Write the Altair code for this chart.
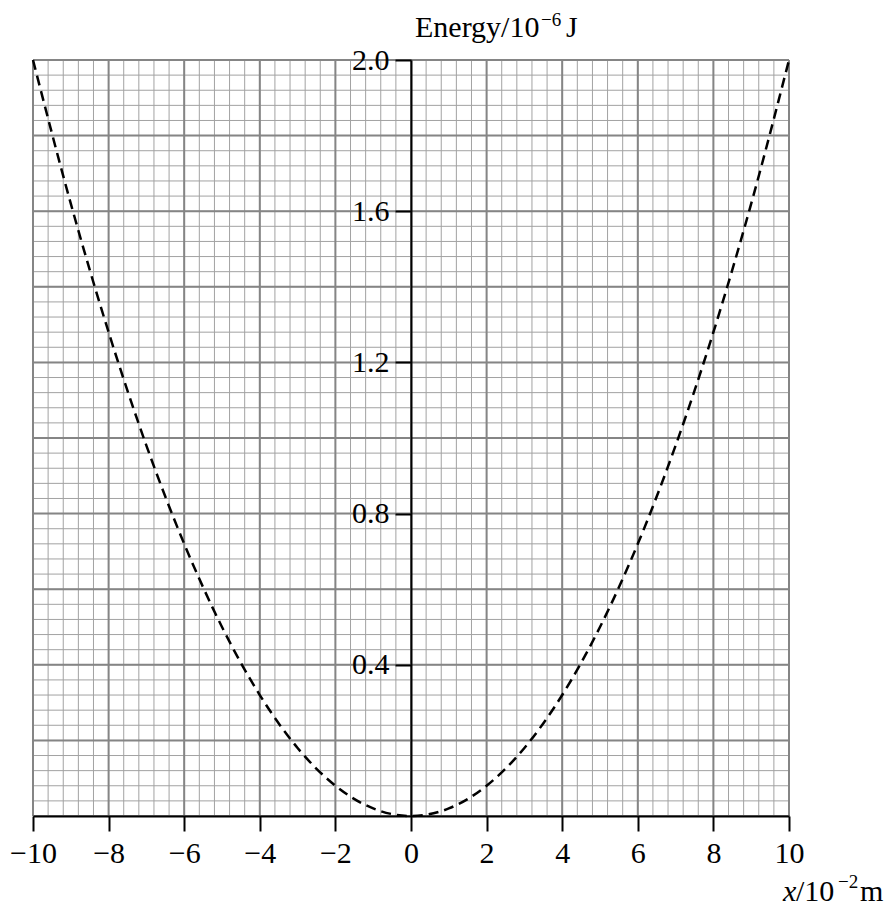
import altair as alt
import pandas as pd

# ---- data ----
x_pos = [-10, -9, -8, -7, -6, -5, -4, -3, -2, -1, 0, 1, 2, 3, 4, 5, 6, 7, 8, 9, 10]
energy = [2.0, 1.62, 1.28, 0.98, 0.72, 0.50, 0.32, 0.18, 0.08, 0.02, 0.0,
          0.02, 0.08, 0.18, 0.32, 0.50, 0.72, 0.98, 1.28, 1.62, 2.0]

x_ticks = [-10, -8, -6, -4, -2, 0, 2, 4, 6, 8, 10]
y_ticks = [0.4, 0.8, 1.2, 1.6, 2.0]

x_minor = [round(-10 + 0.4 * i, 2) for i in range(51)]
x_major = [round(-10 + 2 * i, 2) for i in range(11)]
y_minor = [round(0.04 * i, 2) for i in range(51)]
y_major = [round(0.2 * i, 2) for i in range(11)]

W = 756
H = 756
FONT = "Liberation Serif"
FS = 30

xs = alt.Scale(domain=[-10, 10], nice=False, zero=False)
ys = alt.Scale(domain=[0, 2], nice=False, zero=False)

x_axis = alt.Axis(
    values=x_ticks,
    title=None,
    grid=False,
    format="d",
    domainColor="black",
    domainWidth=2,
    tickColor="black",
    tickWidth=2,
    tickSize=15,
    labelFont=FONT,
    labelFontSize=FS,
    labelColor="black",
    labelPadding=7,
    labelFlush=False,
    labelOverlap=False,
    zindex=1,
)
y_axis = alt.Axis(
    values=y_ticks,
    title=None,
    grid=False,
    format=".1f",
    offset=-W / 2,
    domainColor="black",
    domainWidth=2,
    tickColor="black",
    tickWidth=2,
    tickSize=16,
    labelFont=FONT,
    labelFontSize=FS,
    labelColor="black",
    labelPadding=6,
    labelFlush=False,
    labelOverlap=False,
    zindex=1,
)

curve_df = pd.DataFrame({"x": x_pos, "E": energy})

minor_v = alt.Chart(pd.DataFrame({"v": x_minor})).mark_rule(
    color="#a2a2a2", strokeWidth=1
).encode(x=alt.X("v:Q", scale=xs, axis=x_axis, title=None))

minor_h = alt.Chart(pd.DataFrame({"v": y_minor})).mark_rule(
    color="#a2a2a2", strokeWidth=1
).encode(y=alt.Y("v:Q", scale=ys, axis=y_axis, title=None))

major_v = alt.Chart(pd.DataFrame({"v": x_major})).mark_rule(
    color="#858585", strokeWidth=2
).encode(x=alt.X("v:Q", scale=xs, axis=x_axis, title=None))

major_h = alt.Chart(pd.DataFrame({"v": y_major})).mark_rule(
    color="#858585", strokeWidth=2
).encode(y=alt.Y("v:Q", scale=ys, axis=y_axis, title=None))

curve = alt.Chart(curve_df).mark_line(
    color="black", strokeWidth=2.5, strokeDash=[10, 6], interpolate="monotone"
).encode(
    x=alt.X("x:Q", scale=xs, axis=x_axis, title=None),
    y=alt.Y("E:Q", scale=ys, axis=y_axis, title=None),
)


def txt(s, px, py, size, italic=False):
    kw = dict(text=s, font=FONT, fontSize=size, color="black", align="left",
              baseline="alphabetic")
    if italic:
        kw["fontStyle"] = "italic"
    return alt.Chart(alt.Data(values=[{}])).mark_text(**kw).encode(
        x=alt.value(px), y=alt.value(py)
    )


labels = [
    txt("Energy/10", 382, -23, FS),
    txt("\u22126", 508, -34, 19),
    txt("J", 533, -23, FS),
    txt("x", 750, 841, FS, italic=True),
    txt("/10", 763, 841, FS),
    txt("\u22122", 805, 828, 19),
    txt("m", 827, 841, FS),
]

chart = alt.layer(minor_v, minor_h, major_v, major_h, curve, *labels).properties(
    width=W,
    height=H,
    autosize=alt.AutoSizeParams(type="none"),
    padding={"left": 25, "top": 52, "right": 95, "bottom": 91},
).configure_view(stroke=None).configure(background="white")

chart.save("out.html", embed_options={"renderer": "svg", "actions": False})
